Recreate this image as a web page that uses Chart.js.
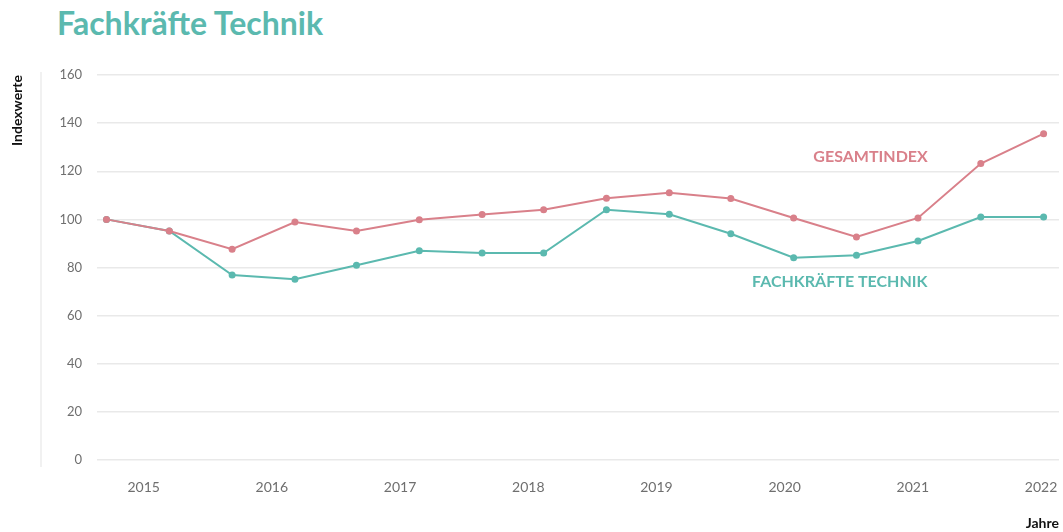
<!DOCTYPE html>
<html lang="de">
<head>
    <meta charset="UTF-8">
    <title>Fachkräfte Technik</title>
    <style>
        * { margin: 0; padding: 0; box-sizing: border-box; }
        body { background: #fff; width: 1063px; height: 532px; position: relative; overflow: hidden; }
        .title { position: absolute; left: 57px; top: 4px; font-family: Lato, sans-serif; font-weight: 700; font-size: 32px; line-height: 38px; color: #5bb9af; }
        #chart { position: absolute; left: 0; top: 0; }
    </style>
    <script src="https://cdn.jsdelivr.net/npm/chart.js"></script>
</head>
<body>
    <div class="title">Fachkräfte Technik</div>
    <canvas id="chart" width="1063" height="532"></canvas>
    <script>
        // half-year periods (decimal years) and index values
        const periods = [2014.71, 2015.20, 2015.69, 2016.18, 2016.66, 2017.15, 2017.64, 2018.12,
                         2018.61, 2019.10, 2019.58, 2020.07, 2020.56, 2021.04, 2021.53, 2022.02];
        const gesamtindex = [100, 95.2, 87.6, 98.9, 95.2, 99.8, 102, 104, 108.8, 111.1, 108.7, 100.6, 92.7, 100.6, 123.2, 135.6];
        const technik = [100, 95.2, 76.9, 75.1, 80.9, 87, 86, 86, 104, 102.1, 94, 84.1, 85.1, 91, 101, 101];
        const years = [2015, 2016, 2017, 2018, 2019, 2020, 2021, 2022];

        const RED = '#d9808a';
        const TEAL = '#5bb9af';

        // series labels placed in data coordinates
        const seriesLabels = [
            { text: 'GESAMTINDEX', x: 2020.67, y: 126, color: RED },
            { text: 'FACHKRÄFTE TECHNIK', x: 2020.43, y: 74.1, color: TEAL }
        ];

        const toPoints = vals => periods.map((p, i) => ({ x: p, y: vals[i] }));

        const extras = {
            id: 'extras',
            beforeDraw(chart) {
                const ctx = chart.ctx;
                ctx.save();
                ctx.strokeStyle = '#ececec';
                ctx.lineWidth = 1.5;
                ctx.beginPath();
                ctx.moveTo(41, 72);
                ctx.lineTo(41, 467);
                ctx.stroke();
                ctx.restore();
            },
            afterDatasetsDraw(chart) {
                const ctx = chart.ctx;
                const xs = chart.scales.x, ys = chart.scales.y;
                ctx.save();
                ctx.font = '700 16px Lato, sans-serif';
                ctx.textAlign = 'center';
                ctx.textBaseline = 'middle';
                seriesLabels.forEach(l => {
                    ctx.fillStyle = l.color;
                    ctx.fillText(l.text, xs.getPixelForValue(l.x), ys.getPixelForValue(l.y));
                });
                ctx.restore();
            }
        };

        new Chart(document.getElementById('chart'), {
            type: 'line',
            data: {
                datasets: [
                    {
                        label: 'Gesamtindex',
                        data: toPoints(gesamtindex),
                        borderColor: RED,
                        backgroundColor: RED,
                        pointBackgroundColor: RED,
                        borderWidth: 2,
                        pointRadius: 3.5,
                        pointBorderWidth: 0,
                        tension: 0
                    },
                    {
                        label: 'Fachkräfte Technik',
                        data: toPoints(technik),
                        borderColor: TEAL,
                        backgroundColor: TEAL,
                        pointBackgroundColor: TEAL,
                        borderWidth: 2,
                        pointRadius: 3.5,
                        pointBorderWidth: 0,
                        tension: 0
                    }
                ]
            },
            options: {
                responsive: false,
                devicePixelRatio: 1,
                animation: false,
                layout: { padding: { top: 75, left: 4, right: 2, bottom: 0 } },
                plugins: { legend: { display: false }, tooltip: { enabled: false } },
                scales: {
                    x: {
                        type: 'linear',
                        min: 2014.636,
                        max: 2022.14,
                        afterBuildTicks: s => { s.ticks = years.map(v => ({ value: v })); },
                        afterFit: s => { s.height = 72; s.paddingLeft = 0; s.paddingRight = 0; },
                        grid: { display: false, drawTicks: false },
                        border: { display: false },
                        ticks: {
                            callback: v => String(v),
                            color: '#6f6f6f',
                            font: { family: 'Lato', size: 14 },
                            padding: 19,
                            maxRotation: 0,
                            autoSkip: false
                        },
                        title: {
                            display: true,
                            text: 'Jahre',
                            align: 'end',
                            color: '#111',
                            font: { family: 'Lato', size: 14, weight: '700' },
                            padding: { top: 20, bottom: 0 }
                        }
                    },
                    y: {
                        min: 0,
                        max: 160,
                        afterFit: s => { s.width = 93; },
                        grid: { color: '#e9e9e9', lineWidth: 1.5, drawTicks: false },
                        border: { display: false },
                        ticks: {
                            stepSize: 20,
                            color: '#6f6f6f',
                            font: { family: 'Lato', size: 13 },
                            padding: 15
                        },
                        title: {
                            display: true,
                            text: 'Indexwerte',
                            align: 'end',
                            color: '#111',
                            font: { family: 'Lato', size: 14, weight: '700' },
                            padding: { top: 5, bottom: 0 }
                        }
                    }
                }
            },
            plugins: [extras]
        });
    </script>
</body>
</html>
